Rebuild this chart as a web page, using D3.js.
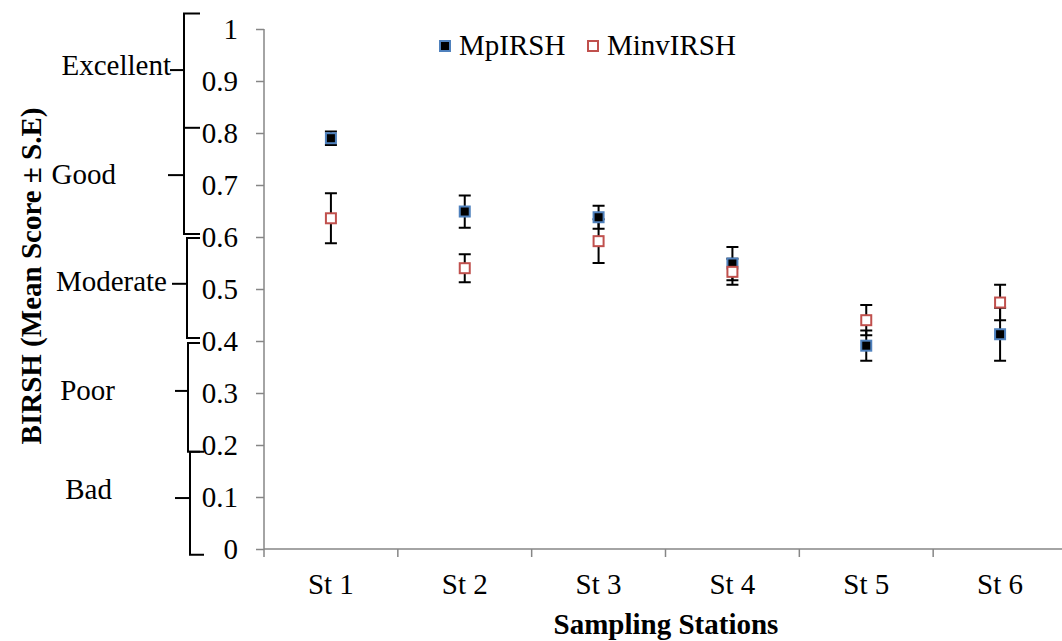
<!DOCTYPE html>
<html>
<head>
<meta charset="utf-8">
<script src="https://cdn.jsdelivr.net/npm/d3@7"></script>
<style>
  body { margin: 0; background: #fff; }
  text { font-family: "Liberation Serif", "Times New Roman", serif; fill: #000; }
</style>
</head>
<body>
<div id="chart"></div>
<script>
// data
const stations = ["St 1", "St 2", "St 3", "St 4", "St 5", "St 6"];
const mpMean = [0.790, 0.649, 0.638, 0.549, 0.391, 0.413];
const mpErr = [0.013, 0.031, 0.022, 0.032, 0.029, 0.051];
const minvMean = [0.636, 0.540, 0.592, 0.533, 0.440, 0.474];
const minvErr = [0.048, 0.027, 0.042, 0.025, 0.029, 0.034];
const yTicks = [0, 0.1, 0.2, 0.3, 0.4, 0.5, 0.6, 0.7, 0.8, 0.9, 1];

// quality classes drawn as brackets left of the axis
const classLabels = ["Excellent", "Good", "Moderate", "Poor", "Bad"];
const classValues = [0.921, 0.719, 0.510, 0.304, 0.098];
const classTextValues = [0.929, 0.719, 0.512, 0.304, 0.113];
const bracketRanges = [[1.03, 0.606], [0.598, 0.406], [0.396, 0.187], [0.187, -0.011]];
const bracketMids = [0.81];

const width = 1062;
const height = 641;
const margin = { left: 264, right: -5, top: 29, bottom: 92 };
const fontSize = '29px';

const svg = d3.select('#chart')
    .append('svg')
    .attr('width', width)
    .attr('height', height);

const xScale = d3.scaleBand()
    .domain(stations)
    .range([margin.left, width - margin.right]);

const yScale = d3.scaleLinear()
    .domain([0, 1])
    .range([height - margin.bottom, margin.top]);

const y0 = yScale(0);

// axes
const yAxis = d3.axisLeft(yScale).tickValues(yTicks).tickSize(8).tickFormat(d => d3.format("")(d));
const gy = svg.append('g')
    .attr('transform', `translate(${margin.left},0)`)
    .call(yAxis);
gy.select('.domain').remove();
gy.append('line')
    .attr('x1', 0).attr('x2', 0)
    .attr('y1', yScale(1)).attr('y2', y0)
    .attr('stroke', '#868686').attr('stroke-width', 1.5);
gy.selectAll('.tick line').attr('stroke', '#868686').attr('stroke-width', 1.5);
gy.selectAll('.tick text')
    .attr('x', -26)
    .attr('dy', '0.34em')
    .style('font-size', fontSize)
    .style('font-family', '"Liberation Serif", serif')
    .attr('fill', '#000');

// x axis line and category dividers
svg.append('line')
    .attr('x1', margin.left).attr('x2', width)
    .attr('y1', y0).attr('y2', y0)
    .attr('stroke', '#868686').attr('stroke-width', 1.5);

const dividers = stations.map(s => xScale(s));
svg.selectAll('.divider')
    .data(dividers)
    .enter()
    .append('line')
    .attr('class', 'divider')
    .attr('x1', d => d).attr('x2', d => d)
    .attr('y1', y0).attr('y2', y0 + 8)
    .attr('stroke', '#868686').attr('stroke-width', 1.5);

svg.selectAll('.xlabel')
    .data(stations)
    .enter()
    .append('text')
    .attr('class', 'xlabel')
    .attr('x', d => xScale(d) + xScale.bandwidth() / 2)
    .attr('y', 594)
    .attr('text-anchor', 'middle')
    .style('font-size', fontSize)
    .text(d => d);

// axis titles
svg.append('text')
    .attr('x', 666)
    .attr('y', 634)
    .attr('text-anchor', 'middle')
    .style('font-size', fontSize)
    .style('font-weight', 'bold')
    .text('Sampling Stations');

svg.append('text')
    .attr('transform', `translate(41, 276) rotate(-90)`)
    .attr('text-anchor', 'middle')
    .style('font-size', fontSize)
    .style('font-weight', 'bold')
    .text('BIRSH (Mean Score \u00b1 S.E)');

// brackets
const bracketX = [184, 187, 188, 190];
const bracketG = svg.append('g')
    .attr('stroke', '#000')
    .attr('stroke-width', 2)
    .attr('fill', 'none');

bracketRanges.forEach((r, i) => {
    const x = bracketX[i];
    const hook = 200 + (i === 3 ? 4 : 0);
    bracketG.append('path')
        .attr('d', `M${hook},${yScale(r[0])}H${x}V${yScale(r[1])}H${hook}`);
});
bracketMids.forEach(v => {
    bracketG.append('line')
        .attr('x1', bracketX[0]).attr('x2', 200)
        .attr('y1', yScale(v)).attr('y2', yScale(v));
});

const classTickX = [[170, 184], [168, 184], [172, 187], [175, 188], [175, 190]];
classValues.forEach((v, i) => {
    bracketG.append('line')
        .attr('x1', classTickX[i][0]).attr('x2', classTickX[i][1])
        .attr('y1', yScale(v)).attr('y2', yScale(v));
});

const classLabelRight = [171, 116, 167, 115, 112];
svg.selectAll('.classlabel')
    .data(classLabels)
    .enter()
    .append('text')
    .attr('class', 'classlabel')
    .attr('x', (d, i) => classLabelRight[i])
    .attr('y', (d, i) => yScale(classTextValues[i]))
    .attr('dy', '0.3em')
    .attr('text-anchor', 'end')
    .style('font-size', fontSize)
    .text(d => d);

// series
const series = [
    { name: 'MpIRSH', mean: mpMean, err: mpErr, fill: '#000', stroke: '#4F81BD' },
    { name: 'MinvIRSH', mean: minvMean, err: minvErr, fill: '#fff', stroke: '#C0504D' }
];

const cx = d => xScale(d) + xScale.bandwidth() / 2;

series.forEach(s => {
    const rows = stations.map((st, i) => ({ st, v: s.mean[i], e: s.err[i] }));
    const g = svg.append('g');
    g.selectAll('.bar')
        .data(rows)
        .enter()
        .append('path')
        .attr('d', d => {
            const x = cx(d.st);
            const t = yScale(d.v + d.e), b = yScale(d.v - d.e);
            return `M${x},${t}V${b}M${x - 6},${t}H${x + 6}M${x - 6},${b}H${x + 6}`;
        })
        .attr('stroke', '#000')
        .attr('stroke-width', 2)
        .attr('fill', 'none');
});

series.forEach(s => {
    svg.append('g').selectAll('rect')
        .data(stations.map((st, i) => ({ st, v: s.mean[i] })))
        .enter()
        .append('rect')
        .attr('x', d => cx(d.st) - 5)
        .attr('y', d => yScale(d.v) - 5)
        .attr('width', 10)
        .attr('height', 10)
        .attr('fill', s.fill)
        .attr('stroke', s.stroke)
        .attr('stroke-width', 2);
});

// legend
const legendX = [445, 593];
const legend = svg.append('g');
series.forEach((s, i) => {
    legend.append('rect')
        .attr('x', legendX[i] - 5)
        .attr('y', 41)
        .attr('width', 10)
        .attr('height', 10)
        .attr('fill', s.fill)
        .attr('stroke', s.stroke)
        .attr('stroke-width', 2);
    legend.append('text')
        .attr('x', legendX[i] + 14)
        .attr('y', 55)
        .style('font-size', fontSize)
        .text(s.name);
});
</script>
</body>
</html>
